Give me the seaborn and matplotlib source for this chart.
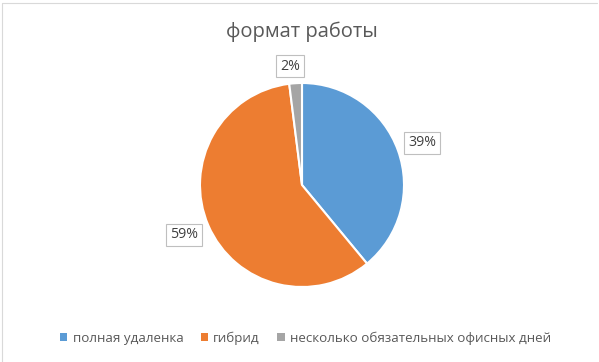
import matplotlib
matplotlib.use("Agg")
import matplotlib.pyplot as plt
from matplotlib.lines import Line2D
from matplotlib.patches import Patch
import seaborn as sns

categories = ["полная удаленка", "гибрид", "несколько обязательных офисных дней"]
values = [39, 59, 2]
title = "формат работы"

sns.set_theme(style="white")
plt.rcParams['font.family'] = ['Open Sans', 'DejaVu Sans']
colors = sns.color_palette(["#5B9BD5", "#ED7D31", "#A5A5A5"])

W, H = 599, 362
fig = plt.figure(figsize=(W / 100, H / 100), dpi=100)
fig.patch.set_facecolor("white")

cx, cy, r = 302, 185, 102
ax = fig.add_axes([(cx - r) / W, (H - cy - r) / H, 2 * r / W, 2 * r / H])
wedges, _ = ax.pie(values, colors=colors, startangle=90, counterclock=False,
                   radius=1, wedgeprops=dict(edgecolor="white", linewidth=1.5))
ax.set_xlim(-1, 1)
ax.set_ylim(-1, 1)
ax.set_aspect("auto")
ax.axis("off")

# data label positions (pixels)
label_px = [(422, 143), (184, 235), (290, 66)]
for v, (px, py) in zip(values, label_px):
    ax.text((px - cx) / r, (cy - py) / r, f"{v}%", ha="center", va="center",
            fontsize=10.2, color="#404040",
            bbox=dict(boxstyle="square,pad=0.28", fc="white", ec="#BFBFBF", lw=0.8))

fig.text(cx / W, 1 - 32 / H, title, ha="center", va="center",
         fontsize=14.5, color="#595959")

handles = [Patch(facecolor=c, edgecolor="none") for c in colors]
fig.legend(handles, categories, loc="center", bbox_to_anchor=(0.51, 1 - 338 / H),
           ncol=3, frameon=False, fontsize=9.6, handlelength=0.55, handleheight=0.55,
           handletextpad=0.4, columnspacing=1.3, labelcolor="#595959")

fig.add_artist(Line2D([2 / W, 2 / W], [0, 1 - 3 / H], transform=fig.transFigure,
                      color="#D9D9D9", lw=0.8))
fig.add_artist(Line2D([2 / W, 597 / W], [1 - 3 / H, 1 - 3 / H], transform=fig.transFigure,
                      color="#D9D9D9", lw=0.8))

fig.savefig("out.png", dpi=100)
